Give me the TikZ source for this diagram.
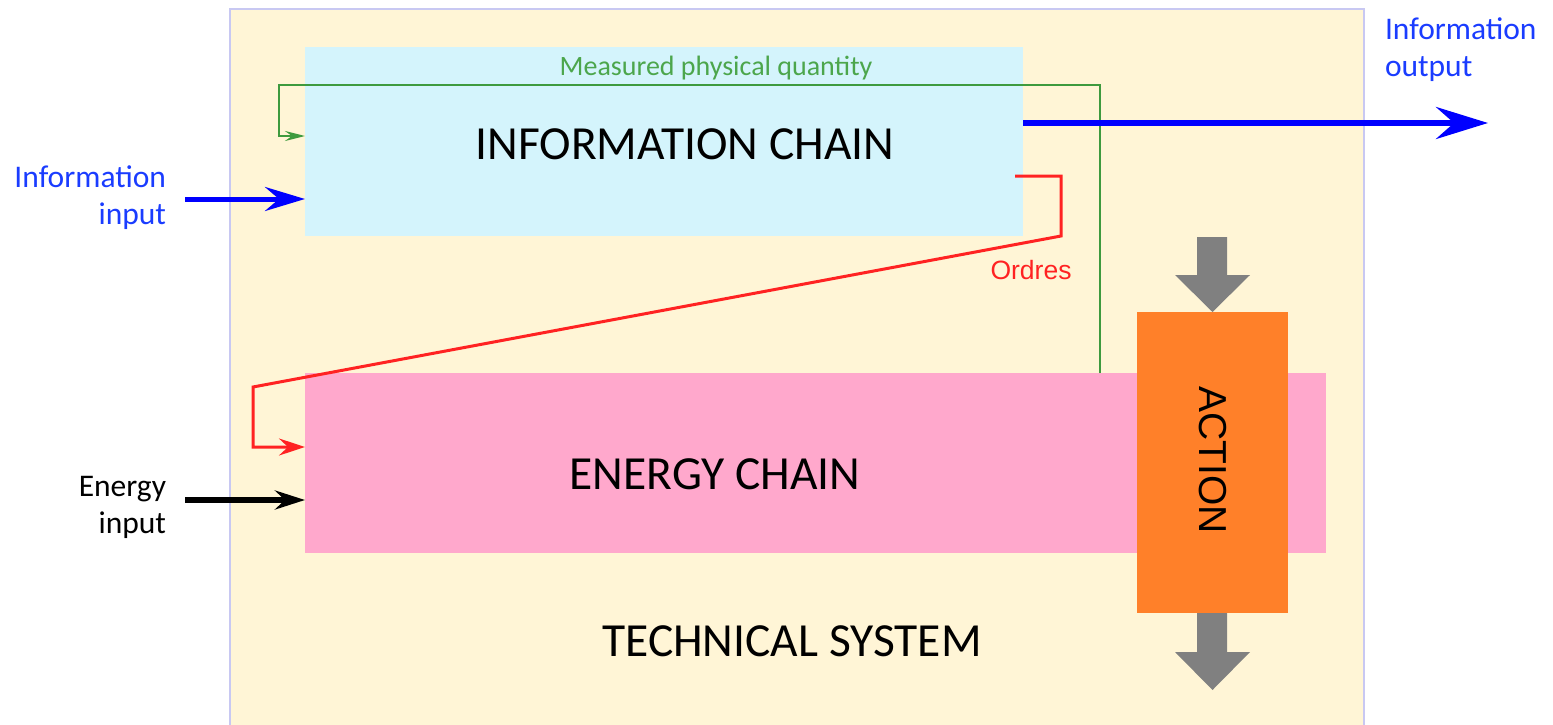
\documentclass[tikz,border=0pt]{standalone}
\usepackage{fontspec}
\setmainfont{Carlito}
\newfontfamily\arialfont{Liberation Sans}
\usetikzlibrary{arrows.meta}

\definecolor{sysfill}{HTML}{FFF5D6}
\definecolor{sysline}{HTML}{C8C8F2}
\definecolor{infofill}{HTML}{D4F4FC}
\definecolor{energyfill}{HTML}{FFA8CC}
\definecolor{actionfill}{HTML}{FF8029}
\definecolor{flowgray}{HTML}{808080}
\definecolor{measgreen}{HTML}{3E9A3E}
\definecolor{meastext}{HTML}{4CA64C}
\definecolor{ordred}{HTML}{FF2222}
\definecolor{infoblue}{HTML}{0000FF}
\definecolor{labelblue}{HTML}{1A3CFF}

\tikzset{
  block/.style={rectangle, inner sep=0pt, outer sep=0pt, draw=none},
  lbl/.style={inner sep=0pt, outer sep=0pt},
  bigtext/.style={lbl, font=\fontsize{47.5}{52}\selectfont},
  sidetext/.style={lbl, font=\fontsize{31.5}{37}\selectfont},
  bluelink/.style={draw=infoblue, line width=5pt,
    -{Stealth[length=40pt, width=24pt, inset=14pt]}},
  outlink/.style={draw=infoblue, line width=6pt,
    -{Stealth[length=52pt, width=32pt, inset=18pt]}},
  energylink/.style={draw=black, line width=6pt,
    -{Stealth[length=30pt, width=19pt, inset=10pt]}},
  measlink/.style={draw=measgreen, line width=2pt,
    -{Stealth[length=20pt, width=10pt, inset=7pt]}},
  ordlink/.style={draw=ordred, line width=3pt, line join=miter,
    -{Stealth[length=26pt, width=17pt, inset=9pt]}},
  flowarrow/.style={fill=flowgray, draw=none}
}

\begin{document}
\begin{tikzpicture}[x=1pt, y=-1pt]
\useasboundingbox (0,0) rectangle (1553,725);

% technical system frame
\node[block, fill=sysfill, draw=sysline, line width=1.5pt,
      minimum width=1134pt, minimum height=724pt] (sys) at (797,371) {};

% chains
\node[block, fill=infofill, minimum width=718pt, minimum height=189pt]
  (info) at (664,141.5) {};
\node[block, fill=energyfill, minimum width=1021pt, minimum height=180pt]
  (energy) at (815.5,463) {};

% measured quantity feedback
\coordinate (mstart) at (1100,373);
\coordinate (mtop) at (1100,85);
\coordinate (mleft) at (279,85);
\coordinate (mdown) at (279,136);
\draw[measlink] (mstart) -- (mtop) -- (mleft) -- (mdown) -- (mdown -| info.west);
\node[lbl, anchor=base, text=meastext, font=\fontsize{28}{32}\selectfont]
  (measlbl) at (716,76) {Measured physical quantity};

% action block and flows
\node[block, fill=actionfill, minimum width=151pt, minimum height=301pt]
  (action) at (1212.5,462.5) {};
\node[lbl, rotate=-90, font=\arialfont\fontsize{39}{44}\selectfont]
  (actlbl) at (1213,460) {ACTION};

% orders
\coordinate (ostart) at (1015,176);
\coordinate (oright) at (1061,176);
\coordinate (odown) at (1061,236);
\coordinate (oleft) at (253,387);
\coordinate (obot) at (253,447);
\draw[ordlink] (ostart) -- (oright) -- (odown) -- (oleft) -- (obot) -- (obot -| energy.west);
\node[lbl, anchor=base, text=ordred, font=\arialfont\fontsize{26.5}{30}\selectfont]
  (ordlbl) at (1031,279) {Ordres};

% gray flows through the action
\fill[flowarrow] (1197,237) -- (1227,237) -- (1227,275) -- (1250,275)
  -- (action.north) -- (1175,275) -- (1197,275) -- cycle;
\fill[flowarrow] (1197,613) -- (1227,613) -- (1227,652) -- (1250,652)
  -- (1212.5,690) -- (1175,652) -- (1197,652) -- cycle;

% information input / output (base anchor sits on the last line)
\coordinate (iin) at (185,199);
\draw[bluelink] (iin) -- (iin -| info.west);
\node[sidetext, anchor=base east, align=right, text=labelblue]
  (iinlbl) at (166,224) {Information\\input};

\coordinate (iout) at (1488,123);
\draw[outlink] (iout -| info.east) -- (iout);
\node[sidetext, anchor=base west, align=left, text=labelblue]
  (ioutlbl) at (1385,76.5) {Information\\output};

% energy input
\coordinate (ein) at (185,500);
\draw[energylink] (ein) -- (ein -| energy.west);
\node[sidetext, anchor=base east, align=right]
  (einlbl) at (166,533) {Energy\\input};

% titles
\node[bigtext, anchor=base] (infotitle) at (685,159) {INFORMATION CHAIN};
\node[bigtext, anchor=base] (energytitle) at (715,489) {ENERGY CHAIN};
\node[bigtext, anchor=base] (systitle) at (792,656) {TECHNICAL SYSTEM};
\end{tikzpicture}
\end{document}
